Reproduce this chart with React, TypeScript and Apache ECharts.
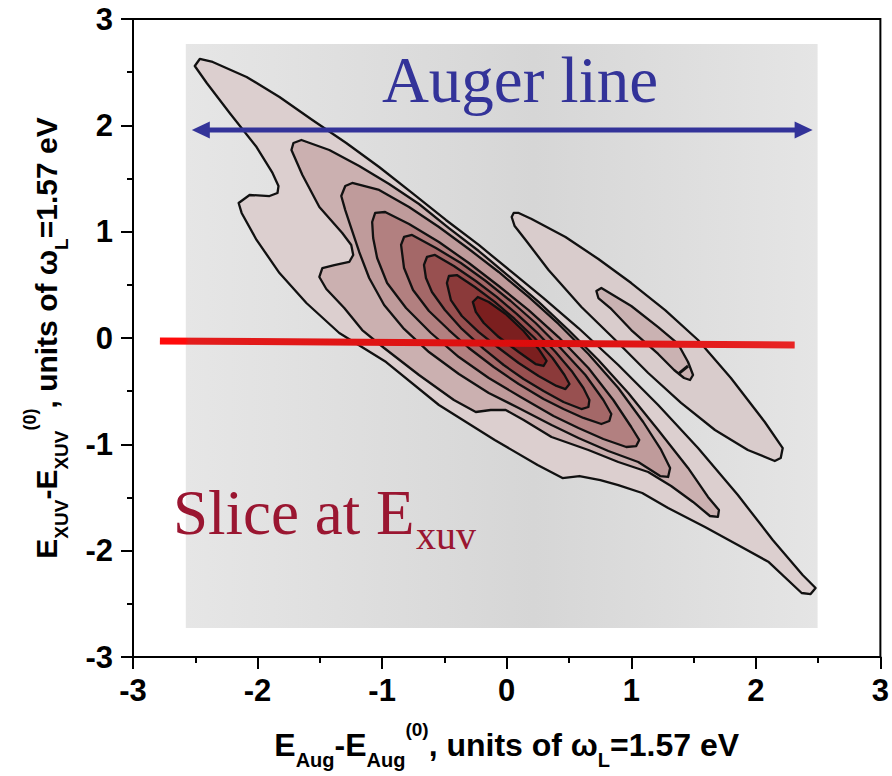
import React, { useEffect, useRef } from "react";
import * as echarts from "echarts";

// ---- data (axis units) ----
const axisRange = [-3, 3];
const backdropX = [-2.576, 2.496];
const backdropY = [-2.727, 2.765];

const mainLevel1 = [
  [-2.504, 2.558], [-2.464, 2.624], [-2.36, 2.596], [-2.088, 2.455], [-1.824, 2.267], [-1.56, 2.05],
  [-1.288, 1.834], [-1.024, 1.608], [-0.76, 1.364], [-0.488, 1.11], [-0.224, 0.875], [0.04, 0.621],
  [0.296, 0.376], [0.576, 0.094], [0.896, -0.254], [1.216, -0.63], [1.536, -1.035], [1.856, -1.477],
  [2.136, -1.9], [2.376, -2.229], [2.48, -2.351], [2.44, -2.408], [2.368, -2.398], [2.104, -2.107],
  [1.856, -1.947], [1.592, -1.778], [1.296, -1.599], [1.088, -1.458], [0.896, -1.383], [0.752, -1.336],
  [0.584, -1.298], [0.448, -1.317], [0.248, -1.194], [-0.096, -0.959], [-0.544, -0.63], [-0.968, -0.226],
  [-1.344, 0.047], [-1.608, 0.329], [-1.824, 0.611], [-2.008, 0.922], [-2.128, 1.176], [-2.152, 1.27],
  [-2.064, 1.345], [-1.904, 1.335], [-1.84, 1.364], [-1.832, 1.429], [-1.88, 1.552], [-2.008, 1.796],
  [-2.224, 2.116], [-2.408, 2.398],
];
const mainLevel2 = [
  [-1.728, 1.768], [-1.712, 1.834], [-1.648, 1.862], [-1.424, 1.768], [-1.184, 1.618], [-0.944, 1.448],
  [-0.704, 1.26], [-0.464, 1.034], [-0.224, 0.818], [0.016, 0.583], [0.256, 0.339], [0.496, 0.075],
  [0.736, -0.207], [0.976, -0.517], [1.216, -0.865], [1.456, -1.222], [1.616, -1.495], [1.704, -1.618],
  [1.696, -1.683], [1.632, -1.674], [1.496, -1.542], [1.32, -1.392], [1.136, -1.26], [0.896, -1.166],
  [0.656, -1.053], [0.36, -0.931], [0.136, -0.771], [-0.008, -0.677], [-0.128, -0.677], [-0.248, -0.696],
  [-0.424, -0.583], [-0.704, -0.348], [-0.984, -0.094], [-1.16, 0.075], [-1.304, 0.282], [-1.448, 0.461],
  [-1.504, 0.574], [-1.48, 0.658], [-1.384, 0.686], [-1.264, 0.715], [-1.232, 0.781], [-1.248, 0.875],
  [-1.32, 0.988], [-1.504, 1.232], [-1.64, 1.533],
];
const mainLevel3 = [
  [-1.328, 1.335], [-1.296, 1.429], [-1.24, 1.458], [-1.024, 1.392], [-0.784, 1.232], [-0.544, 1.044],
  [-0.304, 0.837], [-0.064, 0.621], [0.176, 0.386], [0.416, 0.132], [0.656, -0.15], [0.896, -0.47],
  [1.096, -0.79], [1.24, -1.053], [1.312, -1.223], [1.296, -1.307], [1.232, -1.298], [1.056, -1.166],
  [0.816, -1.063], [0.576, -0.94], [0.36, -0.818], [0.096, -0.658], [-0.144, -0.517], [-0.384, -0.339],
  [-0.624, -0.132], [-0.824, 0.085], [-0.984, 0.31], [-1.104, 0.564], [-1.184, 0.809], [-1.248, 1.034],
  [-1.296, 1.203],
];
const mainLevel4 = [
  [-1.08, 1.091], [-1.056, 1.176], [-0.976, 1.185], [-0.784, 1.072], [-0.544, 0.903], [-0.304, 0.705],
  [-0.064, 0.489], [0.176, 0.263], [0.416, 0.009], [0.656, -0.282], [0.856, -0.583], [1.0, -0.837],
  [1.064, -0.959], [1.04, -1.016], [0.96, -1.025], [0.776, -0.95], [0.576, -0.846], [0.376, -0.734],
  [0.112, -0.555], [-0.144, -0.376], [-0.384, -0.179], [-0.608, 0.047], [-0.808, 0.282], [-0.96, 0.517],
  [-1.04, 0.752], [-1.072, 0.94],
];
const mainLevel5 = [
  [-0.848, 0.875], [-0.824, 0.95], [-0.76, 0.969], [-0.568, 0.846], [-0.368, 0.705], [-0.168, 0.536],
  [0.032, 0.348], [0.232, 0.141], [0.432, -0.094], [0.632, -0.348], [0.776, -0.583], [0.84, -0.715],
  [0.824, -0.781], [0.76, -0.809], [0.616, -0.752], [0.456, -0.668], [0.296, -0.574], [0.096, -0.433],
  [-0.104, -0.273], [-0.304, -0.094], [-0.464, 0.075], [-0.624, 0.254], [-0.752, 0.451], [-0.824, 0.658],
];
const mainLevel6 = [
  [-0.664, 0.687], [-0.64, 0.762], [-0.576, 0.781], [-0.424, 0.677], [-0.248, 0.536], [-0.08, 0.386],
  [0.08, 0.226], [0.24, 0.056], [0.392, -0.132], [0.528, -0.32], [0.616, -0.47], [0.664, -0.583],
  [0.656, -0.649], [0.6, -0.668], [0.456, -0.602], [0.296, -0.498], [0.136, -0.386], [-0.024, -0.254],
  [-0.184, -0.103], [-0.36, 0.085], [-0.496, 0.263], [-0.6, 0.433], [-0.648, 0.564],
];
const mainLevel7 = [
  [-0.48, 0.517], [-0.464, 0.583], [-0.4, 0.592], [-0.256, 0.48], [-0.096, 0.339], [0.064, 0.179],
  [0.224, 0.0], [0.368, -0.188], [0.464, -0.348], [0.504, -0.433], [0.472, -0.48], [0.4, -0.451],
  [0.256, -0.357], [0.096, -0.235], [-0.064, -0.094], [-0.224, 0.056], [-0.36, 0.207], [-0.448, 0.357],
];
const mainLevel8 = [
  [-0.272, 0.339], [-0.232, 0.386], [-0.144, 0.339], [-0.008, 0.226], [0.136, 0.066], [0.256, -0.103],
  [0.32, -0.216], [0.296, -0.263], [0.232, -0.245], [0.096, -0.132], [-0.064, 0.009], [-0.184, 0.141],
  [-0.248, 0.245],
];
const sideLevel1 = [
  [0.04, 1.138], [0.056, 1.176], [0.096, 1.176], [0.2, 1.119], [0.472, 0.95], [0.736, 0.743], [1.0, 0.517],
  [1.272, 0.263], [1.536, -0.019], [1.8, -0.376], [2.072, -0.79], [2.216, -1.035], [2.2, -1.129],
  [2.152, -1.157], [1.936, -1.053], [1.672, -0.865], [1.4, -0.611], [1.136, -0.329], [0.872, -0.019],
  [0.6, 0.292], [0.336, 0.639], [0.152, 0.922], [0.064, 1.053],
];
const sideLevel2 = [
  [0.72, 0.442], [0.76, 0.47], [1.0, 0.301], [1.216, 0.103], [1.376, -0.056], [1.456, -0.226],
  [1.496, -0.348], [1.472, -0.395], [1.424, -0.376], [1.344, -0.301], [1.216, -0.15], [1.0, 0.075],
  [0.832, 0.282], [0.736, 0.376],
];
const sideLevel3Segment = [[1.376, -0.339], [1.456, -0.263]];

const sliceLineX = [-2.784, 2.312];
const sliceLineY = [-0.028, -0.066];
const augerArrowX = [-2.528, 2.456];
const augerArrowY = [1.956, 1.956];

const contourPolygons = [
  mainLevel1, sideLevel1, mainLevel2, sideLevel2, mainLevel3, mainLevel4,
  mainLevel5, mainLevel6, mainLevel7, mainLevel8,
];
const contourFills = [
  "#dccfcf", "#d9cccc", "#cbb0b0", "#cab2b2", "#bf9b9b", "#b28080",
  "#a46868", "#985050", "#8b3a3a", "#7b1f1f",
];

const FONT = "'Liberation Sans', Arial, Helvetica, sans-serif";
const SERIF = "'Liberation Serif', 'Times New Roman', Times, serif";

function nameRich(main: number, sub: number) {
  const base = { fontFamily: FONT, fontWeight: "bold", color: "#000" };
  return {
    m: { ...base, fontSize: main, lineHeight: 50, verticalAlign: "middle" },
    s: { ...base, fontSize: sub, lineHeight: sub, verticalAlign: "bottom" },
    p: { ...base, fontSize: sub - 1, lineHeight: sub, verticalAlign: "top" },
  };
}

function axisCommon() {
  return {
    type: "value",
    min: axisRange[0],
    max: axisRange[1],
    interval: 1,
    axisLine: { show: true, onZero: false, lineStyle: { color: "#000", width: 2 } },
    axisTick: { show: true, inside: false, length: 12, lineStyle: { color: "#000", width: 2 } },
    minorTick: { show: true, splitNumber: 2, length: 6, lineStyle: { color: "#000", width: 2 } },
    splitLine: { show: false },
    minorSplitLine: { show: false },
  };
}

export default function App() {
  const ref = useRef<HTMLDivElement>(null);
  useEffect(() => {
    const chart = echarts.init(ref.current as HTMLDivElement, null, { renderer: "svg" });
    const option: any = {
      animation: false,
      grid: {
        left: 133, right: 9, top: 19, bottom: 119,
        show: true, borderColor: "#000", borderWidth: 2, backgroundColor: "transparent",
      },
      xAxis: {
        ...axisCommon(),
        axisLabel: { color: "#000", fontSize: 31, fontWeight: "bold", fontFamily: FONT, margin: 18 },
        name: "{m|E}{s|Aug}{m|-E}{s|Aug}{p|(0)}{m|, units of ω}{s|L}{m|=1.57 eV}",
        nameLocation: "middle",
        nameGap: 63,
        nameTextStyle: { rich: nameRich(32, 20) },
      },
      yAxis: {
        ...axisCommon(),
        axisLabel: { color: "#000", fontSize: 31, fontWeight: "bold", fontFamily: FONT, margin: 20 },
        name: "{m|E}{s|XUV}{m|-E}{s|XUV}{p|(0)}{m|, units of ω}{s|L}{m|=1.57 eV}",
        nameLocation: "middle",
        nameRotate: 90,
        nameGap: 62,
        nameTextStyle: { rich: nameRich(30, 19) },
      },
      series: [
        {
          type: "custom",
          name: "backdrop",
          z: 1,
          silent: true,
          data: [[backdropX[0], backdropY[0], backdropX[1], backdropY[1]]],
          renderItem: (params: any, api: any) => {
            const tl = api.coord([api.value(0), api.value(3)]);
            const br = api.coord([api.value(2), api.value(1)]);
            return {
              type: "rect",
              shape: { x: tl[0], y: tl[1], width: br[0] - tl[0], height: br[1] - tl[1] },
              style: {
                fill: new echarts.graphic.LinearGradient(0, 0, 1, 0, [
                  { offset: 0, color: "#e6e6e6" },
                  { offset: 0.55, color: "#d6d6d6" },
                  { offset: 1, color: "#e5e5e5" },
                ]),
              },
            };
          },
        },
        {
          type: "custom",
          name: "contours",
          z: 2,
          silent: true,
          data: contourPolygons.map((pts, i) => [pts[0][0], pts[0][1], i]),
          renderItem: (params: any, api: any) => {
            const idx = api.value(2);
            const pts = contourPolygons[idx].map((p) => api.coord(p));
            return {
              type: "polygon",
              shape: { points: pts },
              style: { fill: contourFills[idx], stroke: "#111", lineWidth: 2.3, lineJoin: "round" },
            };
          },
        },
        {
          type: "line",
          name: "inner tip",
          z: 3,
          silent: true,
          symbol: "none",
          data: sideLevel3Segment,
          lineStyle: { color: "#111", width: 3 },
        },
        {
          type: "line",
          name: "slice",
          z: 4,
          silent: true,
          symbol: "none",
          data: [[sliceLineX[0], sliceLineY[0]], [sliceLineX[1], sliceLineY[1]]],
          lineStyle: {
            width: 7,
            cap: "butt",
            color: new echarts.graphic.LinearGradient(0, 0, 1, 0, [
              { offset: 0, color: "#ff0a0a" },
              { offset: 0.04, color: "#ff0a0a" },
              { offset: 0.045, color: "#e31c1c" },
              { offset: 0.6, color: "#dc0c0c" },
              { offset: 1, color: "#e82424" },
            ]),
          },
        },
        {
          type: "custom",
          name: "auger",
          z: 5,
          silent: true,
          data: [[augerArrowX[0], augerArrowY[0], augerArrowX[1], augerArrowY[1]]],
          renderItem: (params: any, api: any) => {
            const a = api.coord([api.value(0), api.value(1)]);
            const b = api.coord([api.value(2), api.value(3)]);
            const head = 18;
            const half = 8.5;
            const col = "#333399";
            return {
              type: "group",
              children: [
                { type: "line", shape: { x1: a[0] + head - 2, y1: a[1], x2: b[0] - head + 2, y2: b[1] }, style: { stroke: col, lineWidth: 5 } },
                { type: "polygon", shape: { points: [[a[0], a[1]], [a[0] + head, a[1] - half], [a[0] + head, a[1] + half]] }, style: { fill: col } },
                { type: "polygon", shape: { points: [[b[0], b[1]], [b[0] - head, b[1] - half], [b[0] - head, b[1] + half]] }, style: { fill: col } },
              ],
            };
          },
        },
      ],
      graphic: [
        {
          type: "text",
          x: 520,
          y: 80,
          z: 10,
          style: {
            text: "Auger line",
            font: `65px ${SERIF}`,
            fill: "#333399",
            align: "center",
            verticalAlign: "middle",
            textAlign: "center",
            textVerticalAlign: "middle",
          },
        },
        {
          type: "text",
          x: 173,
          y: 513,
          z: 10,
          style: {
            text: "Slice at E",
            font: `63px ${SERIF}`,
            fill: "#9a1631",
            align: "left",
            verticalAlign: "middle",
            textAlign: "left",
            textVerticalAlign: "middle",
          },
        },
        {
          type: "text",
          x: 416,
          y: 535,
          z: 10,
          style: {
            text: "xuv",
            font: `40px ${SERIF}`,
            fill: "#9a1631",
            align: "left",
            verticalAlign: "middle",
            textAlign: "left",
            textVerticalAlign: "middle",
          },
        },
      ],
    };
    chart.setOption(option);
    return () => chart.dispose();
  }, []);
  return (
    <div
      ref={ref}
      style={{ position: "fixed", left: 0, top: 0, width: 892, height: 776, background: "#fff" }}
    />
  );
}
